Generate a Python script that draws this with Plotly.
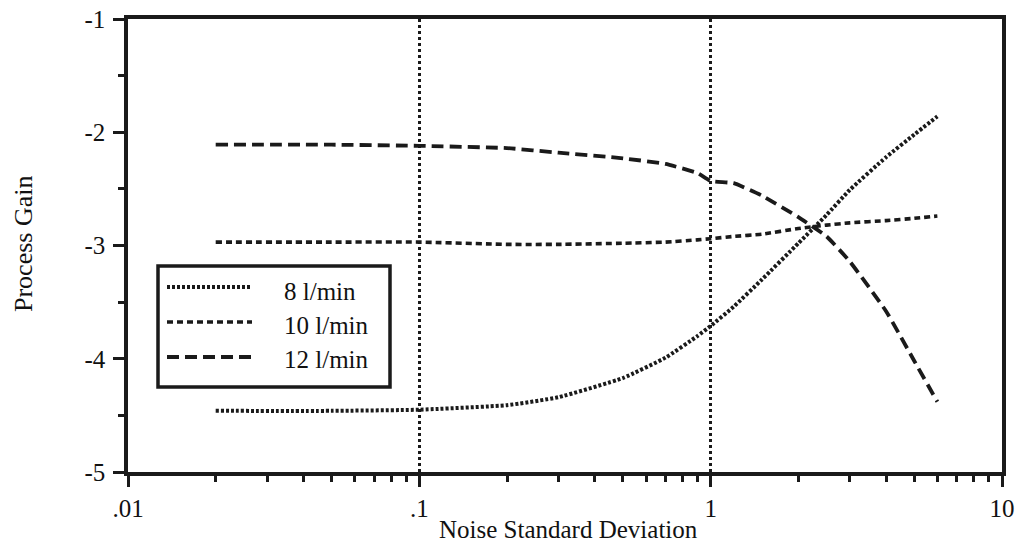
import plotly.graph_objects as go

# ---- data ----
noise_sd = [0.02, 0.05, 0.1, 0.2, 0.3, 0.5, 0.7, 0.9, 1.0, 1.2, 1.5, 2.0, 2.5, 3.0, 4.0, 5.0, 6.0]
gain_8 = [-4.46, -4.46, -4.45, -4.41, -4.34, -4.17, -3.99, -3.80, -3.71, -3.54, -3.30, -2.98, -2.73, -2.51, -2.22, -2.02, -1.86]
gain_10 = [-2.97, -2.97, -2.97, -2.99, -2.99, -2.98, -2.97, -2.95, -2.94, -2.92, -2.90, -2.85, -2.82, -2.80, -2.78, -2.76, -2.74]
gain_12 = [-2.11, -2.11, -2.12, -2.14, -2.18, -2.23, -2.28, -2.36, -2.43, -2.45, -2.56, -2.75, -2.92, -3.14, -3.58, -4.02, -4.38]

series_names = ["8 l/min", "10 l/min", "12 l/min"]
x_tickvals = [0.01, 0.1, 1, 10]
x_ticktext = [".01", ".1", "1", "10"]
y_tickvals = [-5, -4, -3, -2, -1]
y_ticktext = ["-5", "-4", "-3", "-2", "-1"]
x_title = "Noise Standard Deviation"
y_title = "Process Gain"

# ---- styling ----
INK = "#1a1a1a"
FONT = "Liberation Serif, Times New Roman, serif"
dashes = ["3px,2px", "6px,4px", "12px,6px"]
widths = [4, 3.6, 3.8]

W, H = 1018, 545
ML, MR, MT, MB = 128, 16, 19, 73
PW, PH = W - ML - MR, H - MT - MB


def px2paper_x(px):
    return (px - ML) / PW


def px2paper_y(py):
    return (H - MB - py) / PH


fig = go.Figure()
for name, ys, d, w in zip(series_names, [gain_8, gain_10, gain_12], dashes, widths):
    fig.add_trace(go.Scatter(
        x=noise_sd, y=ys, name=name, mode="lines",
        line=dict(color=INK, width=w, dash=d, shape="spline", smoothing=0.4),
        showlegend=False,
    ))

# custom legend box (matching the long line samples of the reference)
shapes = [dict(type="rect", xref="paper", yref="paper",
               x0=px2paper_x(158), x1=px2paper_x(390),
               y0=px2paper_y(387), y1=px2paper_y(266),
               line=dict(color=INK, width=3.5), fillcolor="white", layer="above")]
annotations = []
rows_line = [287, 322, 357]
rows_text = [291, 325, 359]
for name, d, w, yl, yt in zip(series_names, dashes, widths, rows_line, rows_text):
    shapes.append(dict(type="line", xref="paper", yref="paper",
                       x0=px2paper_x(167), x1=px2paper_x(252),
                       y0=px2paper_y(yl), y1=px2paper_y(yl),
                       line=dict(color=INK, width=w, dash=d), layer="above"))
    annotations.append(dict(text=name, xref="paper", yref="paper",
                            x=px2paper_x(282), y=px2paper_y(yt),
                            xanchor="left", yanchor="middle", showarrow=False,
                            font=dict(family=FONT, size=25, color="#111")))

# axis titles
annotations.append(dict(text=x_title, xref="paper", yref="paper",
                        x=px2paper_x(568), y=px2paper_y(529),
                        xanchor="center", yanchor="middle", showarrow=False,
                        font=dict(family=FONT, size=25, color="#111")))
annotations.append(dict(text=y_title, xref="paper", yref="paper",
                        x=px2paper_x(23), y=px2paper_y(244), textangle=-90,
                        xanchor="center", yanchor="middle", showarrow=False,
                        font=dict(family=FONT, size=26, color="#111")))

minor_x = [k * 10 ** e for e in (-2, -1, 0) for k in range(2, 10)]

fig.update_layout(
    width=W, height=H,
    margin=dict(l=ML, r=MR, t=MT, b=MB),
    paper_bgcolor="white", plot_bgcolor="white",
    font=dict(family=FONT, size=25, color="#111"),
    shapes=shapes, annotations=annotations,
    xaxis=dict(
        type="log", range=[-2, 1], automargin=False,
        tickmode="array", tickvals=x_tickvals, ticktext=x_ticktext,
        showline=True, mirror=True, linecolor=INK, linewidth=3.5,
        ticks="outside", ticklen=11, tickwidth=3, tickcolor=INK,
        ticklabelstandoff=0,
        showgrid=True, gridcolor=INK, gridwidth=3, griddash="dot",
        minor=dict(tickmode="array", tickvals=minor_x, ticks="outside",
                   ticklen=6, tickwidth=3, tickcolor=INK, showgrid=False),
        zeroline=False,
    ),
    yaxis=dict(
        range=[-5, -1], automargin=False,
        tickmode="array", tickvals=y_tickvals, ticktext=y_ticktext,
        showline=True, mirror=True, linecolor=INK, linewidth=3.5,
        ticks="outside", ticklen=11, tickwidth=3, tickcolor=INK,
        ticklabelstandoff=3,
        showgrid=False, zeroline=False,
        minor=dict(tickmode="array", tickvals=[-4.5, -3.5, -2.5, -1.5], ticks="outside",
                   ticklen=6, tickwidth=3, tickcolor=INK, showgrid=False),
    ),
)

fig.write_html("out.html")
